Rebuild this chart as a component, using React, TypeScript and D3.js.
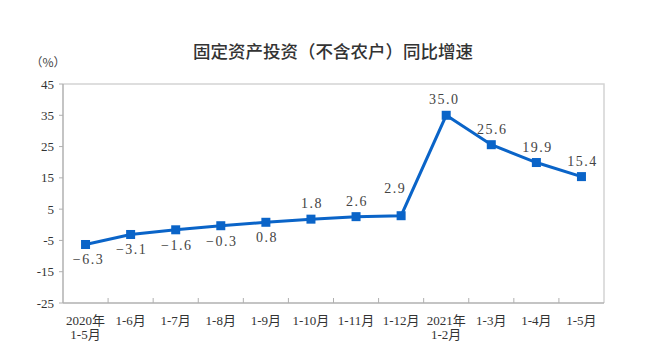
import React, { useEffect, useRef } from "react";
import * as d3 from "d3";

const categories = ["2020年\n1-5月", "1-6月", "1-7月", "1-8月", "1-9月", "1-10月", "1-11月", "1-12月", "2021年\n1-2月", "1-3月", "1-4月", "1-5月"];
const values = [-6.3, -3.1, -1.6, -0.3, 0.8, 1.8, 2.6, 2.9, 35.0, 25.6, 19.9, 15.4];
const labelBelow = [true, true, true, true, true, false, false, false, false, false, false, false];
const labelShiftX = [2, 0, 0, 0, 0, 0, 0, -7, -3, 0, 0, 0];
const labelShiftY = [0, 0, 0, 0, 0, 0, 0, -12, 0, 0, 0, 0];
const yTicks = [-25, -15, -5, 5, 15, 25, 35, 45];
const title = "固定资产投资（不含农户）同比增速";
const unit = "（%）";

const W = 650, H = 358;
const left = 63, right = 604, top = 84, bottom = 303;
const serif = "'Liberation Serif', 'Noto Sans CJK SC', serif";
const lineColor = "#0a64c8";

export default function App() {
  const ref = useRef<SVGSVGElement>(null);
  useEffect(() => {
    const svg = d3.select(ref.current);
    svg.selectAll("*").remove();
    const x = d3.scaleBand().domain(categories).range([left, right]);
    const y = d3.scaleLinear().domain([-25, 45]).range([bottom, top]);

    svg.append("rect").attr("width", W).attr("height", H).attr("fill", "#fff");

    // title
    svg.append("text").attr("x", 333).attr("y", 58).attr("text-anchor", "middle")
      .attr("font-family", "'Noto Sans CJK SC', sans-serif").attr("font-size", 17.5).attr("font-weight", 500)
      .attr("fill", "#333").text(title);
    svg.append("text").attr("x", 48).attr("y", 67).attr("text-anchor", "middle")
      .attr("font-family", "'Noto Sans CJK SC', sans-serif").attr("font-size", 12)
      .attr("fill", "#444").text(unit);

    // frame top/right
    svg.append("path").attr("d", `M${left},${top}H${right}V${bottom}`)
      .attr("fill", "none").attr("stroke", "#d4d4d4").attr("stroke-width", 1.5);

    // y axis
    const ya = svg.append("g");
    ya.append("line").attr("x1", left).attr("x2", left).attr("y1", top).attr("y2", bottom)
      .attr("stroke", "#b0b0b0").attr("stroke-width", 1.5);
    yTicks.forEach(t => {
      ya.append("line").attr("x1", left - 4).attr("x2", left).attr("y1", y(t)).attr("y2", y(t))
        .attr("stroke", "#b0b0b0").attr("stroke-width", 1);
      ya.append("text").attr("x", 54).attr("y", y(t)).attr("dy", "0.35em").attr("text-anchor", "end")
        .attr("font-family", serif).attr("font-size", 13).attr("fill", "#333").text(t);
    });

    // x axis
    const xa = svg.append("g");
    xa.append("line").attr("x1", left).attr("x2", right).attr("y1", bottom).attr("y2", bottom)
      .attr("stroke", "#b0b0b0").attr("stroke-width", 1.5);
    categories.forEach((c, i) => {
      if (i > 0) {
        const bx = x(c)!;
        xa.append("line").attr("x1", bx).attr("x2", bx).attr("y1", bottom).attr("y2", bottom - 5)
          .attr("stroke", "#b0b0b0").attr("stroke-width", 1);
      }
      const cx = x(c)! + x.bandwidth() / 2;
      c.split("\n").forEach((ln, j) => {
        xa.append("text").attr("x", cx).attr("y", 325 + j * 14).attr("text-anchor", "middle")
          .attr("font-family", serif).attr("font-size", 13).attr("fill", "#333").text(ln);
      });
    });

    const pts = values.map((v, i) => [x(categories[i])! + x.bandwidth() / 2, y(v)] as [number, number]);
    svg.append("path").attr("d", d3.line()(pts)).attr("fill", "none")
      .attr("stroke", lineColor).attr("stroke-width", 3).attr("stroke-linejoin", "miter");
    const s = 9;
    pts.forEach(([px, py]) => {
      svg.append("rect").attr("x", px - s / 2).attr("y", py - s / 2).attr("width", s).attr("height", s)
        .attr("fill", lineColor);
    });

    values.forEach((v, i) => {
      const [px, py] = pts[i];
      const txt = v.toFixed(1).replace("-", "−");
      svg.append("text").attr("x", px + 1 + labelShiftX[i])
        .attr("y", (labelBelow[i] ? py + 20 : py - 11) + labelShiftY[i])
        .attr("text-anchor", "middle").attr("font-family", serif).attr("font-size", 14)
        .attr("letter-spacing", 1.5).attr("fill", "#444").text(txt);
    });
  }, []);
  return (
    <svg ref={ref} width={W} height={H} style={{ position: "absolute", left: 0, top: 0 }} />
  );
}
